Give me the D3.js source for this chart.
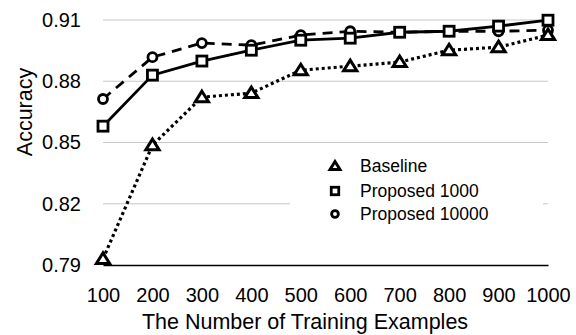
<!DOCTYPE html>
<html>
<head>
<meta charset="utf-8">
<script src="https://cdn.jsdelivr.net/npm/d3@7"></script>
<style>
  body { margin: 0; background: #fff; }
  text { font-family: "Liberation Sans", Arial, Helvetica, sans-serif; }
</style>
</head>
<body>
<svg id="chart" width="576" height="335"></svg>
<script>
// data
const categories = ["100", "200", "300", "400", "500", "600", "700", "800", "900", "1000"];
const baseline = [0.793, 0.8487, 0.8722, 0.8742, 0.8854, 0.8874, 0.8894, 0.8952, 0.8967, 0.9026];
const proposed1000 = [0.858, 0.883, 0.8899, 0.8952, 0.9001, 0.9011, 0.904, 0.9045, 0.907, 0.9099];
const proposed10000 = [0.8713, 0.8918, 0.8987, 0.8977, 0.9026, 0.9045, 0.904, 0.9045, 0.9045, 0.905];
const yTicks = [0.79, 0.82, 0.85, 0.88, 0.91];

const series = [
  { name: "Proposed 10000", values: proposed10000, dash: "10,7", width: 2.8, marker: "circle" },
  { name: "Proposed 1000", values: proposed1000, dash: null, width: 2.8, marker: "square" },
  { name: "Baseline", values: baseline, dash: "3,3", width: 3.2, marker: "triangle" }
];
const legendOrder = ["Baseline", "Proposed 1000", "Proposed 10000"];

const svg = d3.select("#chart");
const plotLeft = 103, plotRight = 548, plotTop = 20, plotBottom = 265;

const x = d3.scalePoint().domain(categories).range([plotLeft, plotRight]).padding(0);
const y = d3.scaleLinear().domain([0.79, 0.91]).range([plotBottom, plotTop]);

// gridlines
svg.append("g")
  .selectAll("line")
  .data(yTicks.slice(1))
  .enter()
  .append("line")
  .attr("x1", plotLeft).attr("x2", plotRight)
  .attr("y1", d => y(d)).attr("y2", d => y(d))
  .attr("stroke", "#c8c8c8").attr("stroke-width", 1.2);

// y axis labels
const yAxis = svg.append("g")
  .attr("transform", "translate(81,0)")
  .call(d3.axisLeft(y).tickValues(yTicks).tickSize(0).tickPadding(0).tickFormat(d3.format(".2f")));
yAxis.select(".domain").remove();
yAxis.selectAll("text").attr("font-size", 20).attr("fill", "#000");

// x axis
const xAxis = svg.append("g")
  .attr("transform", "translate(0," + plotBottom + ")")
  .call(d3.axisBottom(x).tickSize(0).tickPadding(23));
xAxis.select(".domain").attr("stroke", "#000").attr("stroke-width", 1.5);
xAxis.selectAll("text").attr("font-size", 20).attr("fill", "#000");

// axis titles
svg.append("text")
  .attr("x", 305).attr("y", 329)
  .attr("text-anchor", "middle").attr("font-size", 21.5)
  .text("The Number of Training Examples");
svg.append("text")
  .attr("transform", "translate(32,112)rotate(-90)")
  .attr("text-anchor", "middle").attr("font-size", 21.5)
  .text("Accuracy");

// legend box (white, covers gridline)
const legend = svg.append("g");
legend.append("rect")
  .attr("x", 290).attr("y", 150).attr("width", 253).attr("height", 80)
  .attr("fill", "#fff");

function drawMarker(g, type, cx, cy, s) {
  if (type === "circle") {
    g.append("circle").attr("cx", cx).attr("cy", cy).attr("r", 4.5 * s)
      .attr("fill", "#fff").attr("stroke", "#000").attr("stroke-width", 2.8);
  } else if (type === "square") {
    g.append("rect").attr("x", cx - 5 * s).attr("y", cy - 5 * s)
      .attr("width", 10 * s).attr("height", 10 * s)
      .attr("fill", "#fff").attr("stroke", "#000").attr("stroke-width", 2.8);
  } else {
    const h = 6 * s;
    g.append("path")
      .attr("d", "M" + cx + "," + (cy - h) + "L" + (cx + h * 1.1) + "," + (cy + h * 0.75) + "L" + (cx - h * 1.1) + "," + (cy + h * 0.75) + "Z")
      .attr("fill", "#fff").attr("stroke", "#000").attr("stroke-width", 3).attr("stroke-linejoin", "miter");
  }
}

const line = d3.line().x((d, i) => x(categories[i])).y(d => y(d));

series.forEach(s => {
  const g = svg.append("g");
  g.append("path")
    .datum(s.values)
    .attr("d", line)
    .attr("fill", "none")
    .attr("stroke", "#000")
    .attr("stroke-width", s.width)
    .attr("stroke-dasharray", s.dash);
  s.values.forEach((v, i) => drawMarker(g, s.marker, x(categories[i]), y(v), 1));
});

const legendY = [166, 191, 214];
legendOrder.forEach((name, i) => {
  const s = series.find(d => d.name === name);
  const cy = legendY[i];
  drawMarker(legend, s.marker, 335, cy, 0.75);
  legend.append("text")
    .attr("x", 360).attr("y", cy).attr("dy", "0.35em")
    .attr("font-size", 17.5)
    .text(name);
});
</script>
</body>
</html>
